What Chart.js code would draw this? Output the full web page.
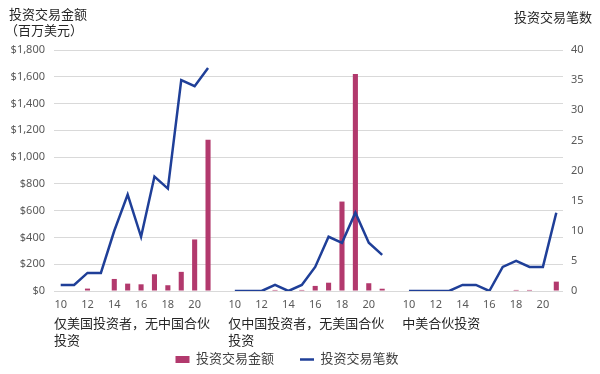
<!DOCTYPE html>
<html>
<head>
<meta charset="utf-8">
<script src="https://cdn.jsdelivr.net/npm/chart.js@4"></script>
<style>
  html, body { margin: 0; padding: 0; background: #fff; }
  #wrap { width: 600px; height: 374px; }
</style>
</head>
<body>
<div id="wrap"><canvas id="dealChart"></canvas></div>
<script>
// years on the x axis of each panel (2010-2021, shown as 10..21)
const years = ['10', '11', '12', '13', '14', '15', '16', '17', '18', '19', '20', '21'];
const groupNames = [
  ['仅美国投资者，无中国合伙', '投资'],
  ['仅中国投资者，无美国合伙', '投资'],
  ['中美合伙投资']
];

// deal value, $ millions
const amountUSOnly = [0, 0, 18, 0, 90, 55, 50, 125, 43, 143, 385, 1130];
const amountCNOnly = [0, 0, 0, 8, 0, 8, 38, 62, 668, 1620, 58, 17];
const amountJoint  = [0, 0, 0, 0, 0, 0, 0, 0, 8, 8, 0, 70];

// number of deals
const countUSOnly = [1, 1, 3, 3, 10, 16, 9, 19, 17, 35, 34, 37];
const countCNOnly = [0, 0, 0, 1, 0, 1, 4, 9, 8, 13, 8, 6];
const countJoint  = [0, 0, 0, 0, 1, 1, 0, 4, 5, 4, 4, 13];

const leftTicks = { min: 0, max: 1800, step: 200 };
const rightTicks = { min: 0, max: 40, step: 5 };

const FONT = '"Noto Sans", "Noto Sans CJK SC", sans-serif';
const PINK = '#B2396D';
const NAVY = '#1F3F98';

// one empty category between panels
const labels = [...years, '', ...years, '', ...years];
const amounts = [...amountUSOnly, null, ...amountCNOnly, null, ...amountJoint];
const counts = [...countUSOnly, null, ...countCNOnly, null, ...countJoint];
const groupStarts = [0, years.length + 1, 2 * (years.length + 1)];

const textPlugin = {
  id: 'extraText',
  afterLayout(chart) {
    // legend in the original sits a little left of centre and lower
    chart.legend.left -= 13;
    chart.legend.right -= 13;
    chart.legend.top += 2;
    chart.legend.bottom += 2;
  },
  afterDraw(chart) {
    const ctx = chart.ctx;
    const x = chart.scales.x;
    const half = (x.getPixelForValue(1) - x.getPixelForValue(0)) / 2;
    ctx.save();
    ctx.fillStyle = '#262626';
    ctx.font = '13px ' + FONT;
    ctx.textBaseline = 'middle';
    ctx.textAlign = 'left';
    // axis titles
    ctx.fillText('投资交易金额', 9, 15);
    ctx.fillText('（百万美元）', 5, 31);
    ctx.textAlign = 'right';
    ctx.fillText('投资交易笔数', 592, 18);
    // panel names
    ctx.textAlign = 'left';
    groupStarts.forEach((start, g) => {
      const gx = x.getPixelForValue(start) - half;
      groupNames[g].forEach((line, i) => {
        ctx.fillText(line, gx, 324 + i * 17);
      });
    });
    ctx.restore();
  }
};

new Chart(document.getElementById('dealChart'), {
  data: {
    labels: labels,
    datasets: [
      {
        type: 'bar',
        label: '投资交易金额',
        data: amounts,
        yAxisID: 'y',
        backgroundColor: PINK,
        barPercentage: 0.38,
        categoryPercentage: 1,
        pointStyle: 'rect',
        order: 1
      },
      {
        type: 'line',
        label: '投资交易笔数',
        data: counts,
        yAxisID: 'y1',
        borderColor: NAVY,
        backgroundColor: NAVY,
        borderWidth: 2.5,
        pointRadius: 0,
        pointStyle: 'line',
        tension: 0,
        order: 0
      }
    ]
  },
  options: {
    responsive: true,
    maintainAspectRatio: false,
    animation: false,
    layout: { padding: { top: 50, left: 0, right: 0, bottom: 0 } },
    plugins: {
      tooltip: { enabled: false },
      legend: {
        position: 'bottom',
        labels: {
          usePointStyle: true,
          pointStyleWidth: 14,
          boxHeight: 7,
          padding: 26,
          color: '#404040',
          font: { family: FONT, size: 13 },
          sort: (a, b) => a.datasetIndex - b.datasetIndex
        }
      }
    },
    scales: {
      x: {
        grid: { display: false, drawTicks: false },
        border: { display: false },
        afterFit: s => { s.height = 34; },
        ticks: {
          autoSkip: false,
          maxRotation: 0,
          padding: 7,
          color: '#595959',
          font: { family: FONT, size: 11 },
          callback: function(v) {
            const l = this.getLabelForValue(v);
            return l !== '' && Number(l) % 2 === 0 ? l : '';
          }
        }
      },
      y: {
        position: 'left',
        min: leftTicks.min,
        max: leftTicks.max,
        afterFit: s => { s.width = 54; },
        grid: { color: '#D9D9D9', drawTicks: false },
        border: { display: false },
        ticks: {
          stepSize: leftTicks.step,
          padding: 9,
          color: '#595959',
          font: { family: FONT, size: 11 },
          callback: v => '$' + v.toLocaleString('en-US')
        }
      },
      y1: {
        position: 'right',
        min: rightTicks.min,
        max: rightTicks.max,
        afterFit: s => { s.width = 37; },
        grid: { display: false, drawTicks: false },
        border: { display: false },
        ticks: {
          stepSize: rightTicks.step,
          padding: 8,
          color: '#595959',
          font: { family: FONT, size: 11 }
        }
      }
    }
  },
  plugins: [textPlugin]
});
</script>
</body>
</html>
